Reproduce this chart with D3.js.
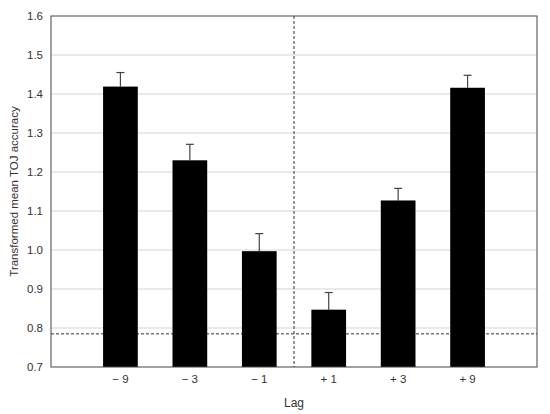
<!DOCTYPE html>
<html><head><meta charset="utf-8">
<script src="https://cdn.jsdelivr.net/npm/d3@7"></script>
<style>body{margin:0;background:#fff;}svg{display:block;font-family:"Liberation Sans",Arial,sans-serif;}</style>
</head><body>
<script>
const categories = ["\u2212 9", "\u2212 3", "\u2212 1", "+ 1", "+ 3", "+ 9"];
const means = [1.419, 1.230, 0.997, 0.847, 1.127, 1.416];
const errTops = [1.455, 1.271, 1.042, 0.891, 1.158, 1.448];
const yTicks = [0.7, 0.8, 0.9, 1.0, 1.1, 1.2, 1.3, 1.4, 1.5, 1.6];
const chanceLevel = 0.785;

const W = 550, H = 414;
const m = {left: 51, right: 13, top: 16, bottom: 47};
const svg = d3.select("body").append("svg").attr("width", W).attr("height", H);

const x = d3.scaleLinear().domain([0, categories.length + 1]).range([m.left, W - m.right]);
const y = d3.scaleLinear().domain([0.7, 1.6]).range([H - m.bottom, m.top]);
const bw = x(0.5) - x(0);

// gridlines
svg.append("g").selectAll("line").data(yTicks.slice(1, -1)).join("line")
  .attr("x1", m.left).attr("x2", W - m.right)
  .attr("y1", d => y(d)).attr("y2", d => y(d))
  .attr("stroke", "#e3e3e3").attr("stroke-width", 1.5);

// chance level dashed
svg.append("line").attr("x1", m.left).attr("x2", W - m.right)
  .attr("y1", y(chanceLevel)).attr("y2", y(chanceLevel))
  .attr("stroke", "#333").attr("stroke-width", 1).attr("stroke-dasharray", "3,2");

// vertical dashed
svg.append("line").attr("x1", x(3.5)).attr("x2", x(3.5))
  .attr("y1", m.top).attr("y2", H - m.bottom)
  .attr("stroke", "#333").attr("stroke-width", 1).attr("stroke-dasharray", "3,2");

// error bars
const eg = svg.append("g").attr("stroke", "#444").attr("stroke-width", 1.2);
categories.forEach((c, i) => {
  const cx = x(i + 1);
  eg.append("line").attr("x1", cx).attr("x2", cx).attr("y1", y(means[i])).attr("y2", y(errTops[i]));
  eg.append("line").attr("x1", cx - 4).attr("x2", cx + 4).attr("y1", y(errTops[i])).attr("y2", y(errTops[i]));
});

// bars
svg.append("g").selectAll("rect").data(means).join("rect")
  .attr("x", (d, i) => x(i + 1) - bw / 2).attr("width", bw)
  .attr("y", d => y(d)).attr("height", d => y(0.7) - y(d))
  .attr("fill", "#000");

// frame
svg.append("rect").attr("x", m.left).attr("y", m.top)
  .attr("width", W - m.right - m.left).attr("height", H - m.bottom - m.top)
  .attr("fill", "none").attr("stroke", "#444").attr("stroke-width", 1);

// y tick labels
svg.append("g").selectAll("text").data(yTicks).join("text")
  .attr("x", m.left - 8).attr("y", d => y(d)).attr("dy", "0.35em")
  .attr("text-anchor", "end").attr("font-size", 11.5).attr("fill", "#333")
  .text(d => d.toFixed(1));

// x tick labels
svg.append("g").selectAll("text").data(categories).join("text")
  .attr("x", (d, i) => x(i + 1)).attr("y", y(0.7) + 16)
  .attr("text-anchor", "middle").attr("font-size", 11.5).attr("fill", "#333")
  .text(d => d);

svg.append("text").attr("x", x(3.5)).attr("y", 407)
  .attr("text-anchor", "middle").attr("font-size", 12).attr("fill", "#333").text("Lag");

svg.append("text").attr("transform", `translate(18,${(m.top + H - m.bottom) / 2}) rotate(-90)`)
  .attr("text-anchor", "middle").attr("font-size", 11.5).attr("fill", "#333")
  .text("Transformed mean TOJ accuracy");
</script>
</body></html>
